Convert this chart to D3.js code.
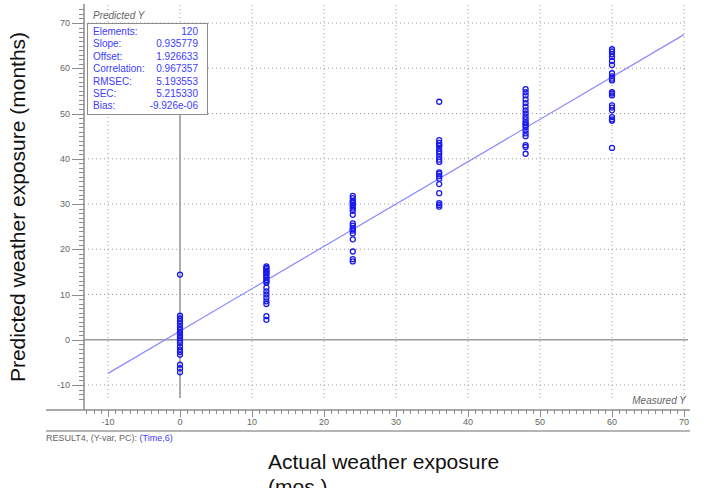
<!DOCTYPE html>
<html>
<head>
<meta charset="utf-8">
<script src="https://cdn.jsdelivr.net/npm/d3@7"></script>
<style>
  body { margin: 0; background: #fff; }
  svg { display: block; font-family: Arial, "Liberation Sans", sans-serif; }
</style>
</head>
<body>
<svg id="chart" width="706" height="488"></svg>
<script>
/* globals d3 */

// Measured (actual) exposure groups, months
var measured = [0, 12, 24, 36, 48, 60];

// Predicted values, 20 samples per group
var pred0 = [14.4, 5.3, 4.7, 4.1, 3.5, 2.8, 2.2, 1.6, 1.1, 0.8, 0.4, -0.2, -0.7, -1.5, -2.2, -2.7, -3.3, -5.5, -6.3, -7.2];
var pred12 = [16.2, 15.9, 15.6, 15.2, 15.0, 14.8, 14.4, 14.0, 13.7, 13.2, 12.9, 12.6, 11.5, 10.7, 10.0, 9.3, 8.5, 7.9, 5.2, 4.4];
var pred24 = [31.8, 31.3, 30.7, 30.5, 30.2, 29.8, 29.4, 29.0, 28.5, 27.6, 25.7, 25.2, 24.7, 24.4, 24.1, 23.5, 22.2, 19.5, 17.8, 17.3];
var pred36 = [52.6, 44.1, 43.5, 43.0, 42.9, 42.2, 41.6, 41.1, 40.4, 39.8, 39.3, 37.0, 36.7, 36.2, 35.6, 34.4, 32.4, 30.2, 29.8, 29.4];
var pred48 = [55.4, 54.7, 54.0, 53.1, 52.3, 51.5, 50.7, 50.0, 49.3, 48.7, 48.1, 47.8, 47.4, 47.0, 46.3, 45.6, 45.0, 43.0, 42.6, 41.1];
var pred60 = [64.2, 63.7, 63.1, 62.5, 61.6, 60.7, 58.9, 58.2, 57.7, 57.3, 54.7, 54.4, 54.0, 51.8, 51.3, 50.7, 49.2, 48.7, 48.4, 42.4];

var xTicks = [-10, 0, 10, 20, 30, 40, 50, 60, 70];
var yTicks = [-10, 0, 10, 20, 30, 40, 50, 60, 70];

var statLabels = ['Elements:', 'Slope:', 'Offset:', 'Correlation:', 'RMSEC:', 'SEC:', 'Bias:'];
var statValues = ['120', '0.935779', '1.926633', '0.967357', '5.193553', '5.215330', '-9.926e-06'];
var slope = 0.935779, offset = 1.926633;

var svg = d3.select('#chart');

var x = d3.scaleLinear().domain([-10, 70]).range([108, 684]);
var y = d3.scaleLinear().domain([-10, 70]).range([385, 23]);

var plotLeft = 84, plotRight = 690, plotTop = 4, plotBottom = 410;
var gridTop = 5, gridBottom = 400;

// Dotted grid
svg.append('g').selectAll('line.gx')
  .data(xTicks).enter().append('line')
  .attr('x1', function (d) { return x(d); })
  .attr('x2', function (d) { return x(d); })
  .attr('y1', gridTop).attr('y2', gridBottom)
  .attr('stroke', '#9a9a9a').attr('stroke-dasharray', '1,3');

svg.append('g').selectAll('line.gy')
  .data(yTicks).enter().append('line')
  .attr('x1', plotLeft).attr('x2', plotRight - 2)
  .attr('y1', function (d) { return y(d); })
  .attr('y2', function (d) { return y(d); })
  .attr('stroke', '#9a9a9a').attr('stroke-dasharray', '1,3');

// Zero lines
svg.append('line')
  .attr('x1', plotLeft).attr('x2', plotRight - 2)
  .attr('y1', y(0)).attr('y2', y(0))
  .attr('stroke', '#9c9c9c').attr('stroke-width', 1.6);
svg.append('line')
  .attr('x1', x(0)).attr('x2', x(0))
  .attr('y1', 114).attr('y2', gridBottom - 2)
  .attr('stroke', '#9c9c9c').attr('stroke-width', 1.6);

// Fit line
svg.append('line')
  .attr('x1', x(-10)).attr('y1', y(slope * -10 + offset))
  .attr('x2', x(70)).attr('y2', y(slope * 70 + offset))
  .attr('stroke', '#8a8aff').attr('stroke-width', 1.2);

// Points
var groups = [pred0, pred12, pred24, pred36, pred48, pred60];
var points = [];
groups.forEach(function (vals, i) {
  vals.forEach(function (v) { points.push({ m: measured[i], p: v }); });
});

svg.append('g').selectAll('circle')
  .data(points).enter().append('circle')
  .attr('cx', function (d) { return x(d.m); })
  .attr('cy', function (d) { return y(d.p); })
  .attr('r', 2.5)
  .attr('fill', 'none')
  .attr('stroke', '#1a1af0')
  .attr('stroke-width', 1.3);

// Y axis with ruler ticks
svg.append('line')
  .attr('x1', plotLeft).attr('x2', plotLeft)
  .attr('y1', plotTop).attr('y2', plotBottom)
  .attr('stroke', '#8c8c8c').attr('stroke-width', 1.5);

svg.append('g').selectAll('line')
  .data(d3.range(-13, 74)).enter().append('line')
  .attr('x1', function (d) { return d % 10 === 0 ? 72 : 79; })
  .attr('x2', plotLeft)
  .attr('y1', function (d) { return Math.round(y(d)) + 0.5; })
  .attr('y2', function (d) { return Math.round(y(d)) + 0.5; })
  .attr('stroke', '#8c8c8c').attr('stroke-width', 1);

svg.append('g').selectAll('text')
  .data(yTicks).enter().append('text')
  .attr('x', 70).attr('y', function (d) { return y(d) + 3; })
  .attr('text-anchor', 'end')
  .attr('font-size', 9).attr('fill', '#666')
  .text(function (d) { return d; });

// X axis with ruler ticks
svg.append('line')
  .attr('x1', 46).attr('x2', plotRight)
  .attr('y1', plotBottom).attr('y2', plotBottom)
  .attr('stroke', '#8c8c8c').attr('stroke-width', 1.5);

svg.append('g').selectAll('line')
  .data(d3.range(-13, 71)).enter().append('line')
  .attr('x1', function (d) { return Math.round(x(d)) + 0.5; })
  .attr('x2', function (d) { return Math.round(x(d)) + 0.5; })
  .attr('y1', plotBottom)
  .attr('y2', function (d) { return d % 10 === 0 ? plotBottom + 7 : plotBottom + 4; })
  .attr('stroke', '#8c8c8c').attr('stroke-width', 1);

svg.append('g').selectAll('text')
  .data(xTicks).enter().append('text')
  .attr('x', function (d) { return x(d); }).attr('y', 425)
  .attr('text-anchor', 'middle')
  .attr('font-size', 9).attr('fill', '#666')
  .text(function (d) { return d; });

svg.append('line')
  .attr('x1', 46).attr('x2', plotRight)
  .attr('y1', 431).attr('y2', 431)
  .attr('stroke', '#9c9c9c').attr('stroke-width', 1.5);

var res = svg.append('text').attr('x', 46).attr('y', 441)
  .attr('font-size', 9).attr('fill', '#666');
res.append('tspan').text('RESULT4, (Y-var, PC): ');
res.append('tspan').attr('fill', '#3c3cff').text('(Time,6)');

// Axis captions inside the plot
svg.append('text')
  .attr('x', 93).attr('y', 19)
  .attr('font-size', 10).attr('font-style', 'italic').attr('fill', '#666')
  .text('Predicted Y');

svg.append('text')
  .attr('x', 686).attr('y', 404)
  .attr('text-anchor', 'end')
  .attr('font-size', 10).attr('font-style', 'italic').attr('fill', '#666')
  .text('Measured Y');

// Statistics box
var box = svg.append('g');
box.append('rect')
  .attr('x', 87.5).attr('y', 23.5).attr('width', 120).attr('height', 91)
  .attr('fill', '#fff').attr('stroke', '#8c8c8c').attr('stroke-width', 1);

box.selectAll('text.lab')
  .data(statLabels).enter().append('text')
  .attr('x', 93).attr('y', function (d, i) { return 35 + i * 12.4; })
  .attr('font-size', 10).attr('fill', '#3c3cff')
  .text(function (d) { return d; });

box.selectAll('text.val')
  .data(statValues).enter().append('text')
  .attr('x', 198).attr('y', function (d, i) { return 35 + i * 12.4; })
  .attr('text-anchor', 'end')
  .attr('font-size', 10).attr('fill', '#3c3cff')
  .text(function (d) { return d; });

// Outer axis titles
svg.append('text')
  .attr('transform', 'translate(25,207) rotate(-90)')
  .attr('text-anchor', 'middle')
  .attr('font-size', 21).attr('fill', '#111')
  .text('Predicted weather exposure (months)');

svg.append('text')
  .attr('x', 268).attr('y', 469)
  .attr('font-size', 21).attr('fill', '#111')
  .text('Actual weather exposure');

svg.append('text')
  .attr('x', 268).attr('y', 494)
  .attr('font-size', 21).attr('fill', '#111')
  .text('(mos.)');
</script>
</body>
</html>
